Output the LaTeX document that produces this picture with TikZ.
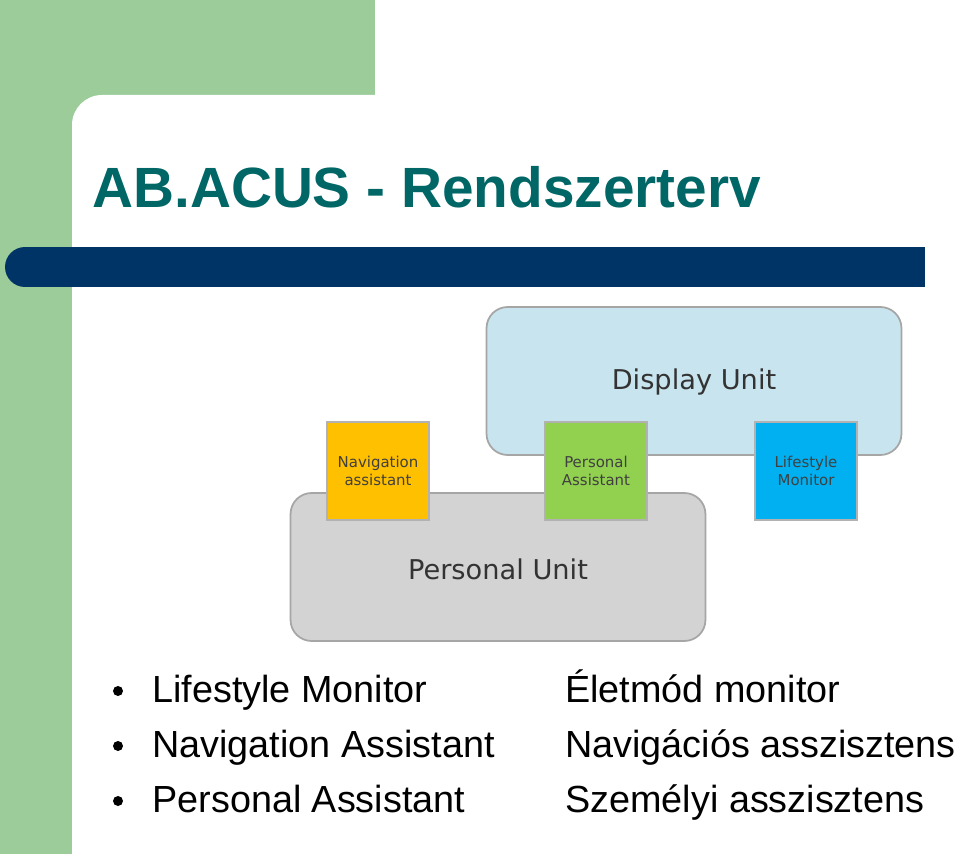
\documentclass[tikz,border=0pt]{standalone}
\usepackage{fontspec}
\setmainfont{Liberation Sans}
\newfontfamily\unitfont{DejaVu Sans}
\usetikzlibrary{positioning}
\definecolor{pagegreen}{RGB}{155,204,153}
\definecolor{titleteal}{RGB}{0,102,102}
\definecolor{barblue}{RGB}{0,51,102}
\definecolor{displayblue}{RGB}{200,228,238}
\definecolor{unitgray}{RGB}{211,211,211}
\definecolor{navorange}{RGB}{255,192,0}
\definecolor{persgreen}{RGB}{146,208,80}
\definecolor{lifeblue}{RGB}{0,176,240}
\tikzset{
  unitbox/.style={draw=gray!70, line width=1pt, rounded corners=12pt, minimum width=8.3cm, minimum height=2.96cm},
  modbox/.style={draw=gray!60, line width=0.6pt, minimum width=2.04cm, minimum height=1.96cm, align=center, font=\unitfont\fontsize{8.5}{10}\selectfont, text=black!75},
  bullettext/.style={anchor=base west, font=\fontsize{21.5}{24}\selectfont, inner sep=0pt}
}
\begin{document}
\begin{tikzpicture}[x=0.02cm, y=-0.02cm]
    \useasboundingbox (0,0) rectangle (960,854);
    % Background
    \fill[pagegreen] (0,0) rectangle (375,95);
    \fill[pagegreen] (0,0) rectangle (110,854);
    \fill[white] (72,854) -- (72,125) arc[start angle=180, end angle=90, radius=0.6cm] -- (960,95) -- (960,854) -- cycle;
    
    % Title and bar
    \node[anchor=base west, inner sep=0pt, text=titleteal, font=\bfseries\fontsize{32.3}{36}\selectfont] (title) at (92,208) {AB.ACUS - Rendszerterv};
    \fill[barblue] (25,247) rectangle (925,287);
    \fill[barblue] (25,267) circle[radius=0.4cm];
    
    % Units
    \node[unitbox, fill=displayblue] (display) at (694,381) {};
    \node[unitbox, fill=unitgray] (personal) at (498,567) {};
    \node[font=\unitfont\fontsize{15.5}{18}\selectfont, text=black!80] (displaylbl) at (694,382) {Display Unit};
    \node[font=\unitfont\fontsize{15.5}{18}\selectfont, text=black!80] (personallbl) at (498,569) {Personal Unit};
    
    % Modules
    \node[modbox, fill=navorange] (nav) at (378,471) {Navigation\\assistant};
    \node[modbox, fill=persgreen] (pers) at (596,471) {Personal\\Assistant};
    \node[modbox, fill=lifeblue] (life) at (806,471) {Lifestyle\\Monitor};
    
    % Bullet list
    \foreach \y/\en/\hu in {702/Lifestyle Monitor/Életmód monitor,
                            757/Navigation Assistant/Navigációs asszisztens,
                            812/Personal Assistant/Személyi asszisztens} {
        \fill (118,\y-11) circle[radius=0.1cm];
        \node[bullettext] at (152,\y) {\en};
        \node[bullettext] at (565,\y) {\hu};
    }
\end{tikzpicture}
\end{document}
